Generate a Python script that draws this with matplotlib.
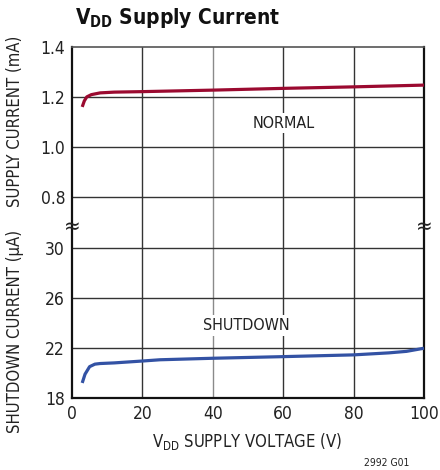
import numpy as np
import matplotlib
matplotlib.use('Agg')
import matplotlib.pyplot as plt

plt.rcParams['font.family'] = ['DejaVu Sans']
plt.rcParams['font.stretch'] = 'condensed'

# supply voltage (V)
v_normal = [2.9, 3.5, 4.2, 5.5, 8, 12, 20, 40, 60, 80, 100]
# supply current, normal mode (mA)
i_normal = [1.161, 1.185, 1.201, 1.210, 1.217, 1.220, 1.222, 1.228, 1.235, 1.241, 1.248]

v_shdn = [2.9, 3.7, 5, 6.5, 8, 12, 20, 25, 40, 60, 80, 90, 95, 100]
# shutdown current (uA)
i_shdn = [19.2, 19.9, 20.5, 20.7, 20.75, 20.8, 20.95, 21.05, 21.17, 21.3, 21.44, 21.6, 21.72, 21.97]

ma_ticks = [0.8, 1.0, 1.2, 1.4]
ua_ticks = [18, 22, 26, 30]


def ua_to_y(i):
    return (np.asarray(i) - 18) / 4.0


def ma_to_y(i):
    return 4 + (np.asarray(i) - 0.8) / 0.2


fig = plt.figure(figsize=(4.4, 4.7), dpi=100)
ax = fig.add_axes([72 / 440, 72 / 470, 352 / 440, 351 / 470])

ax.set_xlim(0, 100)
ax.set_ylim(0, 7)

# grid
for x in [20, 40, 60, 80]:
    ax.axvline(x, color='#8a8a8a' if x == 40 else '#333333', lw=1, zorder=1)
for y in [1, 2, 3, 4, 5, 6]:
    ax.axhline(y, color='#333333', lw=1, zorder=1)

ax.plot(v_normal, ma_to_y(i_normal), color='#9b0a30', lw=2.3, zorder=3,
        solid_capstyle='butt')
ax.plot(v_shdn, ua_to_y(i_shdn), color='#3352a4', lw=2.3, zorder=3,
        solid_capstyle='butt')

ax.set_xticks([0, 20, 40, 60, 80, 100])
yt = list(ua_to_y(ua_ticks)) + list(ma_to_y(ma_ticks))
yl = [str(t) for t in ua_ticks] + ['%.1f' % t for t in ma_ticks]
ax.set_yticks(yt)
ax.set_yticklabels(yl)
ax.tick_params(length=0, labelsize=12.5, colors='#222222', pad=5)

for s in ['left', 'bottom', 'right']:
    ax.spines[s].set_linewidth(1.6)
    ax.spines[s].set_color('#111111')
ax.spines['top'].set_linewidth(1.2)
ax.spines['top'].set_color('#555555')

# axis break marks
for xb in [0, 1]:
    ax.text(xb, 3.42, '\u2248', transform=ax.get_yaxis_transform(),
            ha='center', va='center', fontsize=16, color='#222222', zorder=5)

ax.text(60, 5.48, 'NORMAL', ha='center', va='center', fontsize=11.5, color='#222222',
        bbox=dict(facecolor='white', edgecolor='none', pad=2), zorder=2)
ax.text(49.5, 1.45, 'SHUTDOWN', ha='center', va='center', fontsize=11.5, color='#222222',
        bbox=dict(facecolor='white', edgecolor='none', pad=2), zorder=2)

fig.text(15 / 440, 1 - 121 / 470, 'SUPPLY CURRENT (mA)', rotation=90, ha='center',
         va='center', fontsize=12, color='#222222')
fig.text(15 / 440, 1 - 331 / 470, 'SHUTDOWN CURRENT (\u00b5A)', rotation=90, ha='center',
         va='center', fontsize=12, color='#222222')
fig.text(247 / 440, 1 - 441 / 470, r'V$_{\mathregular{DD}}$ SUPPLY VOLTAGE (V)',
         ha='center', va='center', fontsize=12, color='#222222')
fig.text(75 / 440, 1 - 18 / 470, r'V$_{\mathregular{DD}}$ Supply Current', ha='left',
         va='center', fontsize=15, fontweight='bold', color='#111111')
fig.text(409 / 440, 1 - 463 / 470, '2992 G01', ha='right', va='center', fontsize=7.5,
         color='#222222')

fig.savefig('out.png', dpi=100)
